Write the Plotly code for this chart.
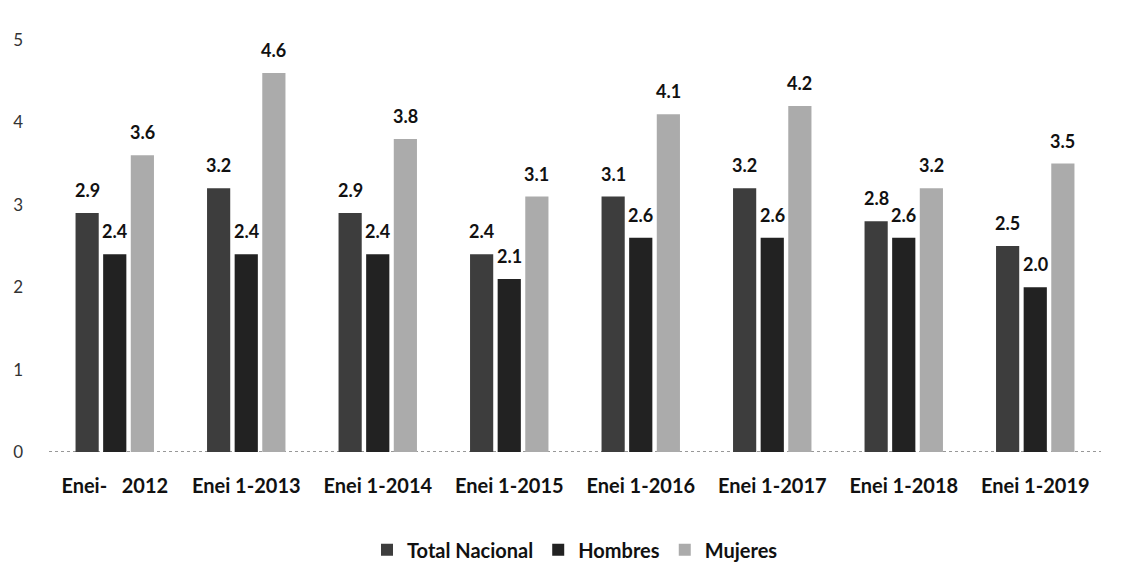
import plotly.graph_objects as go

categorias = ["Enei-\u00a0\u00a0\u00a02012", "Enei 1-2013", "Enei 1-2014", "Enei 1-2015",
              "Enei 1-2016", "Enei 1-2017", "Enei 1-2018", "Enei 1-2019"]
total_nacional = [2.9, 3.2, 2.9, 2.4, 3.1, 3.2, 2.8, 2.5]
hombres = [2.4, 2.4, 2.4, 2.1, 2.6, 2.6, 2.6, 2.0]
mujeres = [3.6, 4.6, 3.8, 3.1, 4.1, 4.2, 3.2, 3.5]

series = [
    ("Total Nacional", total_nacional, "#3d3d3d"),
    ("Hombres", hombres, "#222222"),
    ("Mujeres", mujeres, "#ababab"),
]

# la pagina tiene 8px de margen en el body
W, H = 1112, 557
ML, MR, MT, MB = 41, 19, 32, 113
BARGAP = 0.37

fig = go.Figure()
for nombre, valores, color in series:
    fig.add_trace(go.Bar(
        x=categorias, y=valores, name=nombre,
        marker=dict(color=color, line=dict(width=0)),
    ))

# etiquetas de valor (un poco separadas de la barra, como en el original)
ancho_cat = (W - ML - MR) / len(categorias)
ancho_slot = ancho_cat * (1 - BARGAP) / len(series)
for i, (nombre, valores, color) in enumerate(series):
    for cat, v in zip(categorias, valores):
        fig.add_annotation(
            x=cat, y=v, text=f"<b>{v:.1f}</b>", showarrow=False,
            xanchor="center", yanchor="bottom",
            xshift=(i - 1) * ancho_slot, yshift=10,
            font=dict(family="Lato", size=18, color="#111111"),
        )

# linea base punteada
fig.add_shape(type="line", xref="paper", yref="y", x0=0, x1=1, y0=0, y1=0,
              line=dict(color="#777777", width=1.5, dash="dot"), layer="below")

fig.update_layout(
    width=W, height=H,
    margin=dict(l=ML, r=MR, t=MT, b=MB, autoexpand=False),
    plot_bgcolor="white", paper_bgcolor="white",
    barmode="group", bargap=BARGAP, bargroupgap=0.16,
    font=dict(family="Lato", color="#222222"),
    showlegend=True,
    legend=dict(orientation="h", x=0.5, xanchor="center", y=-0.19, yanchor="top",
                font=dict(size=20, weight="bold", color="#111111"),
                itemwidth=30, traceorder="normal"),
)
fig.update_yaxes(range=[0, 5], dtick=1, showgrid=False, zeroline=False, showline=False,
                 tickfont=dict(size=17, color="#333333"), ticklabelstandoff=25)
fig.update_xaxes(showgrid=False, showline=False, ticks="",
                 tickfont=dict(size=20, color="#111111", weight="bold"), ticklabelstandoff=20)

fig.write_html("out.html")
